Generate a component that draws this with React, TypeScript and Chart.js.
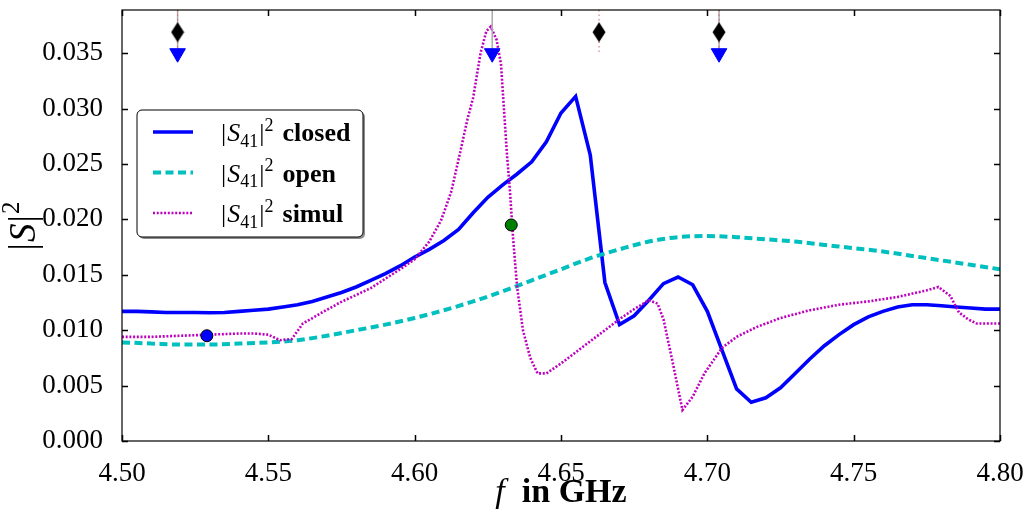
import React, { useEffect, useRef } from "react";
import { Chart, registerables } from "chart.js";

Chart.register(...registerables);

// ---------- data ----------
const closedF = [
  4.5, 4.505, 4.51, 4.515, 4.52, 4.525, 4.53, 4.535, 4.54, 4.545,
  4.55, 4.555, 4.56, 4.565, 4.57, 4.575, 4.58, 4.585, 4.59, 4.595,
  4.6, 4.605, 4.61, 4.615, 4.62, 4.625, 4.63, 4.635, 4.64, 4.645,
  4.65, 4.655, 4.66, 4.665, 4.67, 4.675, 4.68, 4.685, 4.69, 4.695,
  4.7, 4.705, 4.71, 4.715, 4.72, 4.725, 4.73, 4.735, 4.74, 4.745,
  4.75, 4.755, 4.76, 4.765, 4.77, 4.775, 4.78, 4.785, 4.79, 4.795, 4.8,
];
const closedS = [
  0.0117, 0.0117, 0.01165, 0.0116, 0.0116, 0.0116, 0.01158, 0.0116, 0.0117, 0.0118,
  0.0119, 0.0121, 0.0123, 0.0126, 0.013, 0.0134, 0.0139, 0.0145, 0.0151, 0.0158,
  0.0166, 0.0173, 0.0181, 0.0191, 0.0206, 0.022, 0.0231, 0.0241, 0.0252, 0.027,
  0.0296, 0.0311, 0.0258, 0.0143, 0.0105, 0.0113, 0.0127, 0.0142, 0.0148, 0.0141,
  0.0117, 0.0082, 0.0047, 0.0035, 0.0039, 0.0048, 0.0061, 0.0074, 0.0086, 0.0096,
  0.0105, 0.0112, 0.0117, 0.0121, 0.0123, 0.0123, 0.0122, 0.0121, 0.012, 0.0119, 0.0119,
];

const openF = [
  4.5, 4.51, 4.52, 4.53, 4.54, 4.55, 4.56, 4.57, 4.58, 4.59,
  4.6, 4.61, 4.62, 4.63, 4.64, 4.65, 4.66, 4.67, 4.68, 4.69,
  4.7, 4.71, 4.72, 4.73, 4.74, 4.75, 4.76, 4.77, 4.78, 4.79, 4.8,
];
const openS = [
  0.0089, 0.0088, 0.0087, 0.0087, 0.0088, 0.0089, 0.0091, 0.0095, 0.01, 0.0105,
  0.0111, 0.0118, 0.0126, 0.0135, 0.0145, 0.0155, 0.0165, 0.0173, 0.018, 0.0184,
  0.0185, 0.0184, 0.0182, 0.018, 0.0177, 0.0174, 0.0171, 0.0167, 0.0163, 0.0159, 0.0155,
];

const simulF = [
  4.5, 4.51, 4.52, 4.53, 4.54, 4.545, 4.55, 4.554, 4.558, 4.5618,
  4.5677, 4.5745, 4.585, 4.595, 4.6, 4.605, 4.609, 4.6125, 4.6155, 4.618,
  4.62, 4.6225, 4.6245, 4.626, 4.628, 4.6295, 4.6305, 4.6315, 4.6326, 4.6336,
  4.635, 4.637, 4.6395, 4.642, 4.645, 4.65, 4.655, 4.66, 4.665, 4.67,
  4.675, 4.68, 4.683, 4.685, 4.688, 4.6915, 4.695, 4.699, 4.705, 4.71,
  4.717, 4.725, 4.735, 4.745, 4.755, 4.765, 4.775, 4.779, 4.783, 4.786,
  4.789, 4.792, 4.796, 4.8,
];
const simulS = [
  0.0094, 0.0094, 0.0095, 0.0096, 0.0097, 0.0097, 0.0096, 0.0091, 0.0092, 0.0106,
  0.0115, 0.0125, 0.0138, 0.0155, 0.0164, 0.018, 0.0199, 0.0225, 0.026, 0.029,
  0.031, 0.035, 0.037, 0.0374, 0.0362, 0.034, 0.03, 0.026, 0.0224, 0.0184,
  0.0139, 0.01, 0.0075, 0.0061, 0.0061, 0.007, 0.008, 0.009, 0.01, 0.011,
  0.0119, 0.0127, 0.0124, 0.011, 0.0073, 0.0028, 0.004, 0.0061, 0.0084, 0.0094,
  0.0103, 0.0111, 0.0118, 0.0123, 0.0126, 0.013, 0.0136, 0.0139, 0.0131, 0.0116,
  0.011, 0.0106, 0.0106, 0.0106,
];

const diamondF = [4.519, 4.663, 4.704];
const diamondS = [0.0369, 0.0369, 0.0369];
const triangleF = [4.519, 4.6265, 4.704];
const triangleS = [0.035, 0.035, 0.035];
const greyLineF = [4.519, 4.6265, 4.704];
const redLineF = [4.519, 4.663, 4.704];
const vLineTop = 0.0389;
const vLineBottom = 0.035;

const blueDotF = [4.529];
const blueDotS = [0.0095];
const greenDotF = [4.633];
const greenDotS = [0.0195];

const xTicks = [4.5, 4.55, 4.6, 4.65, 4.7, 4.75, 4.8];
const xTickLabels = ["4.50", "4.55", "4.60", "4.65", "4.70", "4.75", "4.80"];
const yTicks = [0, 0.005, 0.01, 0.015, 0.02, 0.025, 0.03, 0.035];
const yTickLabels = ["0.000", "0.005", "0.010", "0.015", "0.020", "0.025", "0.030", "0.035"];
const xMin = 4.5;
const xMax = 4.8;
const yMin = 0;
const yMax = 0.0389;

const legendWords = ["closed", "open", "simul"];

const SERIF = '"Liberation Serif", "DejaVu Serif", serif';

function pts(xs: number[], ys: number[]) {
  return xs.map((x, i) => ({ x, y: ys[i] }));
}
function vlines(xs: number[]) {
  const out: any[] = [];
  xs.forEach((x) => {
    out.push({ x, y: vLineTop }, { x, y: vLineBottom }, { x, y: null });
  });
  return out;
}

function drawMathLabel(ctx: CanvasRenderingContext2D, x: number, y: number, word: string, size: number) {
  let cx = x;
  const put = (t: string, font: string, dy = 0) => {
    ctx.font = font;
    ctx.fillText(t, cx, y + dy);
    cx += ctx.measureText(t).width;
  };
  put("|", `${size}px ${SERIF}`);
  cx += 1;
  put("S", `italic ${size}px ${SERIF}`);
  put("41", `${Math.round(size * 0.7)}px ${SERIF}`, size * 0.22);
  cx += 1;
  put("|", `${size}px ${SERIF}`);
  put("2", `${Math.round(size * 0.7)}px ${SERIF}`, -size * 0.4);
  cx += size * 0.35;
  put(word, `bold ${size}px ${SERIF}`);
}

const framePlugin = {
  id: "frameTicks",
  afterDatasetsDraw(chart: any) {
    const { ctx, chartArea: a, scales } = chart;
    ctx.save();
    ctx.strokeStyle = "#000";
    ctx.lineWidth = 1.2;
    ctx.strokeRect(a.left, a.top, a.right - a.left, a.bottom - a.top);
    const tl = 6;
    ctx.beginPath();
    xTicks.forEach((v) => {
      const px = Math.round(scales.x.getPixelForValue(v)) + 0.5;
      ctx.moveTo(px, a.bottom);
      ctx.lineTo(px, a.bottom - tl);
      ctx.moveTo(px, a.top);
      ctx.lineTo(px, a.top + tl);
    });
    yTicks.forEach((v) => {
      const py = Math.round(scales.y.getPixelForValue(v)) + 0.5;
      ctx.moveTo(a.left, py);
      ctx.lineTo(a.left + tl, py);
      ctx.moveTo(a.right, py);
      ctx.lineTo(a.right - tl, py);
    });
    ctx.lineWidth = 1.5;
    ctx.stroke();
    ctx.restore();
  },
  afterDraw(chart: any) {
    const { ctx, chartArea: a } = chart;
    ctx.save();
    ctx.fillStyle = "#000";
    ctx.textBaseline = "alphabetic";
    // x title
    {
      const size = 34;
      const parts: [string, string][] = [
        ["f", `italic ${size}px ${SERIF}`],
        ["  in GHz", `bold ${size}px ${SERIF}`],
      ];
      let w = 0;
      parts.forEach(([t, f]) => {
        ctx.font = f;
        w += ctx.measureText(t).width;
      });
      let cx = (a.left + a.right) / 2 - w / 2;
      parts.forEach(([t, f]) => {
        ctx.font = f;
        ctx.fillText(t, cx, 502);
        cx += ctx.measureText(t).width;
      });
    }
    // y title
    {
      const size = 37;
      ctx.save();
      ctx.translate(35, (a.top + a.bottom) / 2);
      ctx.rotate(-Math.PI / 2);
      const parts: [string, string, number][] = [
        ["|", `${size}px ${SERIF}`, 0],
        ["S", `italic ${size}px ${SERIF}`, 0],
        ["|", `${size}px ${SERIF}`, 0],
        ["2", `${Math.round(size * 0.68)}px ${SERIF}`, -size * 0.42],
      ];
      let w = 0;
      parts.forEach(([t, f]) => {
        ctx.font = f;
        w += ctx.measureText(t).width + 1;
      });
      let cx = -w / 2;
      parts.forEach(([t, f, dy]) => {
        ctx.font = f;
        ctx.fillText(t, cx, dy);
        cx += ctx.measureText(t).width + 1;
      });
      ctx.restore();
    }

    // legend
    const bx = 137, by = 110, bw = 226, bh = 127, r = 5;
    const rr = (x: number, y: number) => {
      ctx.beginPath();
      ctx.moveTo(x + r, y);
      ctx.lineTo(x + bw - r, y);
      ctx.arcTo(x + bw, y, x + bw, y + r, r);
      ctx.lineTo(x + bw, y + bh - r);
      ctx.arcTo(x + bw, y + bh, x + bw - r, y + bh, r);
      ctx.lineTo(x + r, y + bh);
      ctx.arcTo(x, y + bh, x, y + bh - r, r);
      ctx.lineTo(x, y + r);
      ctx.arcTo(x, y, x + r, y, r);
      ctx.closePath();
    };
    rr(bx + 2, by + 2);
    ctx.fillStyle = "rgba(0,0,0,0.45)";
    ctx.fill();
    rr(bx, by);
    ctx.fillStyle = "#fff";
    ctx.fill();
    ctx.strokeStyle = "#000";
    ctx.lineWidth = 1;
    ctx.stroke();

    const ds = chart.data.datasets;
    legendWords.forEach((word, i) => {
      const d = ds[i];
      const yc = 132 + i * 40.5;
      ctx.save();
      ctx.strokeStyle = d.borderColor;
      ctx.lineWidth = d.borderWidth;
      ctx.setLineDash(d.borderDash || []);
      ctx.beginPath();
      ctx.moveTo(153, yc);
      ctx.lineTo(193, yc);
      ctx.stroke();
      ctx.restore();
      ctx.fillStyle = "#000";
      drawMathLabel(ctx, 221, yc + 9, word, 26);
    });
    ctx.restore();
  },
};

export default function App() {
  const ref = useRef<HTMLCanvasElement | null>(null);

  useEffect(() => {
    const canvas = ref.current;
    if (!canvas) return;

    const diamond = document.createElement("canvas");
    diamond.width = 14;
    diamond.height = 21;
    const dctx = diamond.getContext("2d")!;
    dctx.fillStyle = "#000";
    dctx.beginPath();
    dctx.moveTo(7, 0.5);
    dctx.lineTo(13.5, 10.5);
    dctx.lineTo(7, 20.5);
    dctx.lineTo(0.5, 10.5);
    dctx.closePath();
    dctx.fill();

    const chart = new Chart(canvas, {
      type: "line",
      data: {
        datasets: [
          {
            label: "closed",
            data: pts(closedF, closedS),
            borderColor: "#0000ff",
            borderWidth: 3.6,
            pointRadius: 0,
            tension: 0,
            order: 10,
          } as any,
          {
            label: "open",
            data: pts(openF, openS),
            borderColor: "#00bfbf",
            borderWidth: 4,
            borderDash: [8, 4.5],
            pointRadius: 0,
            cubicInterpolationMode: "monotone",
            order: 9,
          },
          {
            label: "simul",
            data: pts(simulF, simulS),
            borderColor: "#bf00bf",
            borderWidth: 2.6,
            borderDash: [2, 1.7],
            pointRadius: 0,
            tension: 0,
            order: 8,
          },
          {
            label: "greyLines",
            data: vlines(greyLineF),
            borderColor: "#aaaaaa",
            borderWidth: 1.5,
            pointRadius: 0,
            spanGaps: false,
            order: 7,
          },
          {
            label: "redLines",
            data: vlines(redLineF),
            borderColor: "#e06060",
            borderWidth: 1,
            borderDash: [1.5, 3],
            pointRadius: 0,
            spanGaps: false,
            order: 6,
          },
          {
            label: "blueDot",
            data: pts(blueDotF, blueDotS),
            showLine: false,
            pointRadius: 6,
            pointBackgroundColor: "#0000ff",
            pointBorderColor: "#000",
            pointBorderWidth: 1,
            order: 5,
          },
          {
            label: "greenDot",
            data: pts(greenDotF, greenDotS),
            showLine: false,
            pointRadius: 6,
            pointBackgroundColor: "#008000",
            pointBorderColor: "#000",
            pointBorderWidth: 1,
            order: 4,
          },
          {
            label: "triangles",
            data: pts(triangleF, triangleS),
            showLine: false,
            pointStyle: "triangle",
            rotation: 180,
            pointRadius: 9,
            pointBackgroundColor: "#0000ff",
            pointBorderColor: "#0000ff",
            pointBorderWidth: 1,
            order: 3,
          } as any,
          {
            label: "diamonds",
            data: pts(diamondF, diamondS),
            showLine: false,
            pointStyle: diamond,
            pointRadius: 8,
            order: 2,
          },
        ],
      },
      options: {
        responsive: false,
        animation: false,
        devicePixelRatio: 1,
        events: [],
        layout: { padding: { top: 10, right: 28, left: 0, bottom: 0 } },
        plugins: {
          legend: { display: false },
          tooltip: { enabled: false },
          title: { display: false },
        },
        scales: {
          x: {
            type: "linear",
            min: xMin,
            max: xMax,
            grid: { display: false },
            border: { display: false },
            afterBuildTicks: (s: any) => {
              s.ticks = xTicks.map((v) => ({ value: v }));
            },
            afterFit: (s: any) => {
              s.height = 73;
              s.paddingLeft = 0;
              s.paddingRight = 0;
            },
            ticks: {
              padding: 9,
              maxRotation: 0,
              color: "#000",
              font: { family: SERIF, size: 27 },
              callback: (v: any) => {
                const i = xTicks.findIndex((t) => Math.abs(t - v) < 1e-9);
                return i >= 0 ? xTickLabels[i] : "";
              },
            },
          },
          y: {
            type: "linear",
            min: yMin,
            max: yMax,
            grid: { display: false },
            border: { display: false },
            afterBuildTicks: (s: any) => {
              s.ticks = yTicks.map((v) => ({ value: v }));
            },
            afterFit: (s: any) => {
              s.width = 122;
              s.paddingTop = 0;
              s.paddingBottom = 0;
            },
            ticks: {
              padding: 11,
              color: "#000",
              font: { family: SERIF, size: 27 },
              callback: (v: any) => {
                const i = yTicks.findIndex((t) => Math.abs(t - v) < 1e-9);
                return i >= 0 ? yTickLabels[i] : "";
              },
            },
          },
        },
      },
      plugins: [framePlugin],
    });

    return () => chart.destroy();
  }, []);

  return (
    <div style={{ position: "absolute", left: 0, top: 0, width: 1028, height: 514, background: "#fff" }}>
      <canvas ref={ref} width={1028} height={514} style={{ display: "block" }} />
    </div>
  );
}
